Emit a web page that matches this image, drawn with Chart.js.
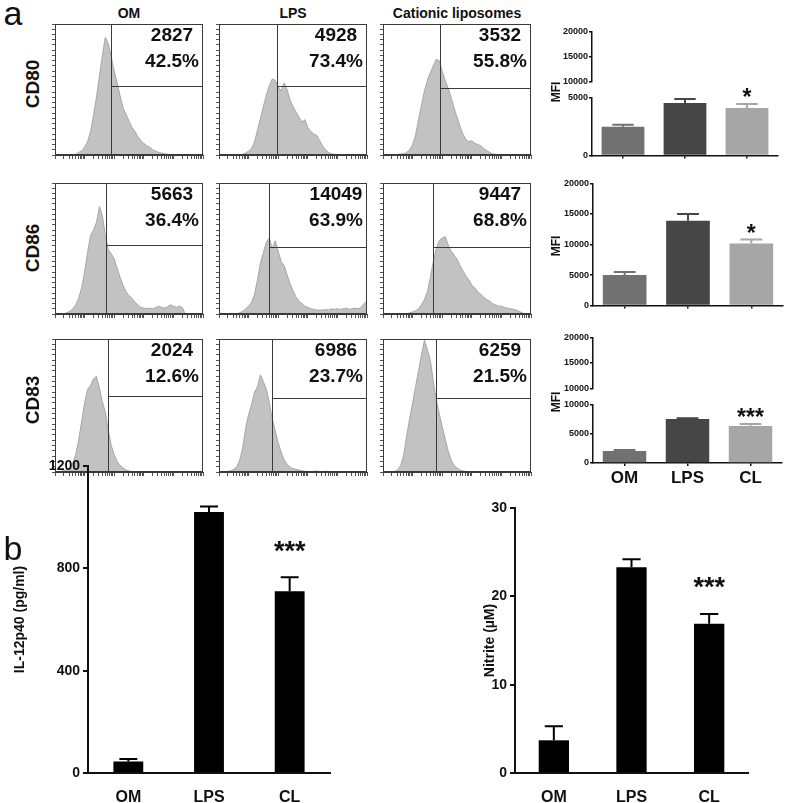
<!DOCTYPE html>
<html>
<head>
<meta charset="utf-8">
<script src="https://cdn.jsdelivr.net/npm/chart.js@4.4.1/dist/chart.umd.min.js"></script>
<style>
  html, body { margin: 0; padding: 0; background: #fff; }
  #fig { position: relative; width: 787px; height: 803px; overflow: hidden;
         font-family: Arial, "Liberation Sans", sans-serif; color: #111; }
  .box { position: absolute; }
  .txt { position: absolute; white-space: nowrap; line-height: 1; transform: translate(-50%, -50%); }
  .rot { transform: translate(-50%, -50%) rotate(-90deg); }
</style>
</head>
<body>
<div id="fig"></div>
<script>
// ---------- data ----------
const conditions = ['OM', 'LPS', 'CL'];
const columnTitles = ['OM', 'LPS', 'Cationic liposomes'];
const markers = ['CD80', 'CD86', 'CD83'];

// log10 fluorescence bins (decades above the axis origin)
const histBins = [0, 0.1, 0.2, 0.3, 0.4, 0.5, 0.6, 0.7, 0.8, 0.9, 1, 1.1, 1.2, 1.3, 1.4, 1.5, 1.6, 1.7, 1.8, 1.9,
  2, 2.1, 2.2, 2.3, 2.4, 2.5, 2.6, 2.7, 2.8, 2.9, 3, 3.1, 3.2, 3.3, 3.4, 3.5, 3.6, 3.7, 3.8, 3.9,
  4, 4.1, 4.2, 4.3, 4.4, 4.5, 4.6, 4.7, 4.8, 4.9, 5];

// cell counts, % of the panel height
const cd80OM = [0, 0, 0, 0, 0, 0, 0, 0.5, 2, 3, 6, 10, 18, 30, 44, 60, 76, 90, 85, 75,
  64, 55, 45, 36, 31, 26, 21, 18, 14, 11, 9, 7, 6, 4, 3, 2, 1.5, 1, 0.6, 0.3,
  0, 0, 0, 0, 0, 0, 0, 0, 0, 0, 0];
const cd80LPS = [0, 0, 0, 0, 0, 0, 0, 0, 0.5, 1.5, 3, 5, 10, 19, 28, 37, 46, 53, 58, 57,
  52, 49, 55, 50, 42, 37, 33, 29, 25, 27, 21, 18, 16, 15, 11, 7, 4, 2, 1, 0.5,
  0, 0, 0, 0, 0, 0, 0, 0, 0, 0, 0];
const cd80CL = [0, 0, 0, 0, 0, 0.5, 0.8, 1, 2, 4, 8, 15, 27, 38, 49, 57, 63, 68, 73, 72,
  64, 57, 51, 44, 36, 29, 22, 16, 12, 10, 11, 9, 8, 7, 5, 3.5, 2, 1, 0.5, 0.2,
  0, 0, 0, 0, 0, 0, 0, 0, 0, 0, 0];
const cd86OM = [0, 0, 0, 0, 1, 2, 4, 7, 12, 20, 32, 47, 60, 64, 70, 82, 75, 60, 49, 46,
  42, 35, 28, 22, 17, 14, 12, 9, 7, 5, 4.5, 4, 4.5, 4, 5, 6, 5, 4.5, 5.5, 7,
  6, 5, 6, 5, 0, 0, 0, 0, 0, 0, 0];
const cd86LPS = [0, 0, 0, 0, 0, 0, 0, 1, 2, 4, 6, 9, 15, 26, 39, 47, 55, 58, 50, 56,
  48, 40, 37, 30, 23, 18, 13, 10, 8, 6, 5, 4, 3.5, 3, 3, 3, 3.5, 3, 4, 3.5,
  4, 3.5, 4, 4.5, 3.5, 4, 4.5, 4, 5, 8, 10];
const cd86CL = [0, 0, 0, 0, 0, 0, 0, 0, 0, 1, 1.5, 2.5, 4, 7, 11, 17, 28, 40, 50, 56,
  58, 59, 53, 48, 45, 42, 37, 33, 29, 26, 22, 20, 17, 15, 13, 11, 10, 8, 7, 6,
  6, 5, 4.5, 4, 3.5, 3, 2, 1, 0, 0, 0];
const cd83OM = [0, 0, 0.5, 1, 2, 3.5, 7, 13, 24, 38, 52, 62, 65, 70, 72, 63, 53, 45, 31, 20,
  13, 8, 5, 3, 1.5, 0.8, 0.3, 0, 0, 0, 0, 0, 0, 0, 0, 0, 0, 0, 0, 0,
  0, 0, 0, 0, 0, 0, 0, 0, 0, 0, 0];
const cd83LPS = [0, 0, 0, 0.5, 1, 2, 4, 9, 18, 33, 43, 51, 60, 64, 73, 68, 62, 52, 40, 31,
  22, 15, 9, 6, 3.5, 2.5, 2, 1.5, 1, 0.5, 0.5, 0.3, 0.5, 0.8, 0.3, 0.3, 0.6, 0.3, 0.2, 0.3,
  0.2, 0, 0, 0, 0, 0, 0, 0, 0, 0, 0];
const cd83CL = [0, 0, 0, 0, 0.5, 1.5, 5, 13, 27, 40, 52, 64, 76, 88, 99, 92, 84, 68, 54, 44,
  34, 25, 16, 9, 5, 3, 1.5, 0.8, 0.4, 0, 0, 0, 0, 0, 0, 0, 0, 0, 0, 0,
  0, 0, 0, 0, 0, 0, 0, 0, 0, 0, 0];

// gate thresholds (decades, % height) and gate read-outs
const gateX = [1.89, 1.95, 1.93, 1.72, 1.70, 1.70, 1.80, 1.80, 1.80];
const gateY = [53, 53, 51.5, 53, 51.5, 51.5, 57, 56, 56];
const gateMfi = ['2827', '4928', '3532', '5663', '14049', '9447', '2024', '6986', '6259'];
const gatePct = ['42.5%', '73.4%', '55.8%', '36.4%', '63.9%', '68.8%', '12.6%', '23.7%', '21.5%'];

// MFI bar charts (mean, upper SEM)
const cd80Mfi = [2500, 4570, 4140];
const cd80Err = [170, 340, 340];
const cd86Mfi = [5000, 13870, 10160];
const cd86Err = [480, 1130, 640];
const cd83Mfi = [2070, 7590, 6380];
const cd83Err = [170, 120, 340];
const mfiSig = [['', '', '*'], ['', '', '*'], ['', '', '***']];

// panel b
const il12 = [45, 1020, 710];
const il12Err = [10, 22, 55];
const il12Ticks = [0, 400, 800, 1200];
const nitrite = [3.7, 23.3, 16.9];
const nitriteErr = [1.6, 0.9, 1.1];
const nitriteTicks = [0, 10, 20, 30];
const panelBSig = ['', '', '***'];

// ---------- helpers ----------
const fig = document.getElementById('fig');
const FONT = 'Arial, "Liberation Sans", sans-serif';

function addCanvas(left, top, width, height) {
  const d = document.createElement('div');
  d.className = 'box';
  d.style.left = left + 'px';
  d.style.top = top + 'px';
  const c = document.createElement('canvas');
  c.width = width;
  c.height = height;
  c.style.width = width + 'px';
  c.style.height = height + 'px';
  d.appendChild(c);
  fig.appendChild(d);
  return c;
}

function addText(text, x, y, size, bold, rotate) {
  const s = document.createElement('div');
  s.className = rotate ? 'txt rot' : 'txt';
  s.textContent = text;
  s.style.left = x + 'px';
  s.style.top = y + 'px';
  s.style.fontSize = size + 'px';
  s.style.fontWeight = bold ? 'bold' : 'normal';
  fig.appendChild(s);
}

// gate lines, frame and read-out text for the histograms
const gatePlugin = {
  id: 'gates',
  afterDatasetsDraw(chart, args, opts) {
    const { ctx, chartArea: a, scales } = chart;
    const gx = Math.round(scales.x.getPixelForValue(opts.gx)) + 0.5;
    const gy = Math.round(scales.y.getPixelForValue(opts.gy)) + 0.5;
    ctx.save();
    ctx.strokeStyle = '#3a3a3a';
    ctx.lineWidth = 1;
    ctx.strokeRect(a.left + 0.5, a.top + 0.5, a.width - 1, a.height - 1);
    ctx.beginPath();
    ctx.moveTo(gx, a.top);
    ctx.lineTo(gx, a.bottom);
    ctx.moveTo(gx, gy);
    ctx.lineTo(a.right, gy);
    ctx.stroke();
    ctx.fillStyle = '#111';
    ctx.font = 'bold 19px ' + FONT;
    ctx.textAlign = 'center';
    ctx.textBaseline = 'middle';
    ctx.fillText(opts.mfi, a.right - 31, a.top + 12);
    ctx.fillText(opts.pct, a.right - 31, a.top + 38);
    ctx.restore();
  }
};

// upper error bars and significance stars
const errPlugin = {
  id: 'errbars',
  afterDatasetsDraw(chart, args, opts) {
    if (!opts.err) return;
    const { ctx } = chart;
    const ys = chart.scales.y;
    const meta = chart.getDatasetMeta(0);
    const ds = chart.data.datasets[0];
    ctx.save();
    meta.data.forEach((bar, i) => {
      const top = ys.getPixelForValue(ds.data[i] + opts.err[i]);
      const color = Array.isArray(ds.backgroundColor) ? ds.backgroundColor[i] : ds.backgroundColor;
      const half = bar.width * opts.cap / 2;
      ctx.strokeStyle = color;
      ctx.lineWidth = opts.lw;
      ctx.beginPath();
      ctx.moveTo(bar.x, bar.y);
      ctx.lineTo(bar.x, top);
      ctx.moveTo(bar.x - half, top);
      ctx.lineTo(bar.x + half, top);
      ctx.stroke();
      if (opts.sig && opts.sig[i]) {
        ctx.fillStyle = '#111';
        ctx.font = 'bold ' + opts.starSize + 'px ' + FONT;
        ctx.textAlign = 'center';
        ctx.textBaseline = 'alphabetic';
        ctx.fillText(opts.sig[i], bar.x, top - opts.starGap + 0.57 * opts.starSize);
      }
    });
    ctx.restore();
  }
};

const plainNumber = v => String(v);

// ---------- panel a: histograms ----------
const histData = [cd80OM, cd80LPS, cd80CL, cd86OM, cd86LPS, cd86CL, cd83OM, cd83LPS, cd83CL];
const colLeft = [55, 219, 383];
const rowTop = [24, 183, 339];
const rowH = [131, 131, 133];
const panelW = 148;

function histogram(idx) {
  const r = Math.floor(idx / 3), c = idx % 3;
  const W = panelW, H = rowH[r];
  const cv = addCanvas(colLeft[c] - 5, rowTop[r] - 1, W + 6, H + 6);
  new Chart(cv, {
    type: 'line',
    data: {
      labels: histBins,
      datasets: [{
        data: histData[idx],
        fill: 'origin',
        backgroundColor: '#c2c2c2',
        borderColor: '#a6a6a6',
        borderWidth: 1,
        pointRadius: 0,
        tension: 0
      }]
    },
    options: {
      responsive: false,
      animation: false,
      events: [],
      layout: { padding: { top: 1, right: 1, left: 0, bottom: 0 } },
      plugins: {
        legend: { display: false },
        tooltip: { enabled: false },
        gates: { gx: gateX[idx], gy: gateY[idx], mfi: gateMfi[idx], pct: gatePct[idx] }
      },
      scales: {
        x: { type: 'linear', min: 0, max: 5, display: false },
        xl: {
          type: 'logarithmic', position: 'bottom', min: 1, max: 100000,
          afterFit: s => { s.height = 5; },
          afterBuildTicks: s => {
            s.ticks = s.ticks.filter(t => {
              const m = t.value / Math.pow(10, Math.floor(Math.log10(t.value) + 1e-9));
              return Math.abs(m - 1.5) > 0.01;
            });
          },
          ticks: { display: false },
          grid: { drawOnChartArea: false, tickLength: 4, color: '#555', lineWidth: 1 },
          border: { display: true, color: '#3a3a3a' }
        },
        y: {
          type: 'linear', min: 0, max: 100,
          afterFit: s => { s.width = 5; },
          ticks: { display: false, stepSize: 4 },
          grid: { drawOnChartArea: false, tickLength: 3, color: '#555', lineWidth: 1 },
          border: { display: true, color: '#3a3a3a' }
        }
      }
    },
    plugins: [gatePlugin]
  });
}
for (let i = 0; i < 9; i++) histogram(i);

// ---------- panel a: MFI bar charts ----------
const mfiColors = ['#717171', '#464646', '#a6a6a6'];
const MFI_LEFT = 550;

function mfiChart(o) {
  const padTop = o.padTop;
  const xh = o.showX ? o.xh : 0;
  const cv = addCanvas(MFI_LEFT, o.yTop - padTop, o.axisEnd - MFI_LEFT + 3,
    o.yBottom - o.yTop + padTop + xh);
  new Chart(cv, {
    type: 'bar',
    data: {
      labels: conditions,
      datasets: [{
        data: o.data || [],
        backgroundColor: mfiColors,
        barPercentage: 0.69,
        categoryPercentage: 1
      }]
    },
    options: {
      responsive: false,
      animation: false,
      events: [],
      layout: { padding: { top: padTop, right: 3, left: 0, bottom: 0 } },
      plugins: {
        legend: { display: false },
        tooltip: { enabled: false },
        errbars: { err: o.err, sig: o.sig, cap: 0.5, lw: 2, starSize: 23, starGap: 12 }
      },
      scales: {
        x: {
          display: o.showX,
          afterFit: s => { s.height = xh; },
          ticks: { display: !!o.labels, color: '#111', padding: 2, font: { family: FONT, size: 17, weight: 'bold' } },
          grid: { drawOnChartArea: false, offset: false, tickLength: 3, color: '#111', lineWidth: 1.5 },
          border: { display: true, color: '#111', width: 1.5 }
        },
        y: {
          min: o.min, max: o.max,
          afterFit: s => { s.width = o.axisX - MFI_LEFT; },
          ticks: { stepSize: 5000, color: '#111', padding: 1, callback: plainNumber,
            font: { family: FONT, size: 9, weight: 'bold' } },
          grid: { drawOnChartArea: false, tickLength: 3, color: '#111', lineWidth: 1.5 },
          border: { display: true, color: '#111', width: 1.5 }
        }
      }
    },
    plugins: [errPlugin]
  });
}

// CD80 (broken axis)
mfiChart({ yTop: 30, yBottom: 88, axisX: 592, axisEnd: 778, min: 10000, max: 20000, padTop: 5, showX: false });
mfiChart({ yTop: 98, yBottom: 156, axisX: 592, axisEnd: 778, min: 0, max: 5000, padTop: 20, showX: true, xh: 6,
  data: cd80Mfi, err: cd80Err, sig: mfiSig[0] });
// CD86
mfiChart({ yTop: 182, yBottom: 306, axisX: 593, axisEnd: 783, min: 0, max: 20000, padTop: 5, showX: true, xh: 6,
  data: cd86Mfi, err: cd86Err, sig: mfiSig[1] });
// CD83 (broken axis)
mfiChart({ yTop: 336, yBottom: 395, axisX: 593, axisEnd: 782, min: 10000, max: 20000, padTop: 5, showX: false });
mfiChart({ yTop: 405, yBottom: 463, axisX: 593, axisEnd: 782, min: 0, max: 10000, padTop: 20, showX: true, xh: 26,
  data: cd83Mfi, err: cd83Err, sig: mfiSig[2], labels: true });

// ---------- panel b ----------
function panelB(o) {
  const cv = addCanvas(o.left, o.yTop - 14, o.axisEnd - o.left + 3, 803 - o.yTop + 14);
  new Chart(cv, {
    type: 'bar',
    data: {
      labels: conditions,
      datasets: [{ data: o.data, backgroundColor: '#000', barPercentage: o.barPct, categoryPercentage: 1 }]
    },
    options: {
      responsive: false,
      animation: false,
      events: [],
      layout: { padding: { top: 14, right: 3, left: 0, bottom: 0 } },
      plugins: {
        legend: { display: false },
        tooltip: { enabled: false },
        errbars: { err: o.err, sig: panelBSig, cap: 0.6, lw: 2, starSize: 27, starGap: 33 }
      },
      scales: {
        x: {
          afterFit: s => { s.height = 803 - o.yBottom; },
          ticks: { color: '#111', padding: 7, font: { family: FONT, size: 16, weight: 'bold' } },
          grid: { drawOnChartArea: false, display: false },
          border: { display: true, color: '#111', width: 2 }
        },
        y: {
          min: o.ticks[0], max: o.ticks[o.ticks.length - 1],
          afterFit: s => { s.width = o.axisX - o.left; },
          afterBuildTicks: s => { s.ticks = o.ticks.map(v => ({ value: v })); },
          title: { display: true, text: o.title, color: '#111', padding: { top: 12, bottom: 0 },
            font: { family: FONT, size: 14, weight: 'bold' } },
          ticks: { color: '#111', padding: 3, callback: plainNumber,
            font: { family: FONT, size: 14, weight: 'bold' } },
          grid: { drawOnChartArea: false, tickLength: 5, color: '#111', lineWidth: 2 },
          border: { display: true, color: '#111', width: 2 }
        }
      }
    },
    plugins: [errPlugin]
  });
}
panelB({ left: 0, axisX: 88, axisEnd: 330, yTop: 466, yBottom: 773, data: il12, err: il12Err,
  ticks: il12Ticks, title: 'IL-12p40 (pg/ml)', barPct: 0.37 });
panelB({ left: 470, axisX: 515, axisEnd: 748, yTop: 508, yBottom: 773, data: nitrite, err: nitriteErr,
  ticks: nitriteTicks, title: 'Nitrite (\u00b5M)', barPct: 0.39 });

// ---------- labels ----------
addText('a', 13, 13, 34, false);
addText('b', 13, 548, 34, false);
columnTitles.forEach((t, i) => addText(t, colLeft[i] + panelW / 2, 13, 14, true));
markers.forEach((t, i) => addText(t, 32, [84, 248, 400][i], 19, true, true));
[92, 246, 402].forEach(y => addText('MFI', 556, y, 12, true, true));
</script>
</body>
</html>
